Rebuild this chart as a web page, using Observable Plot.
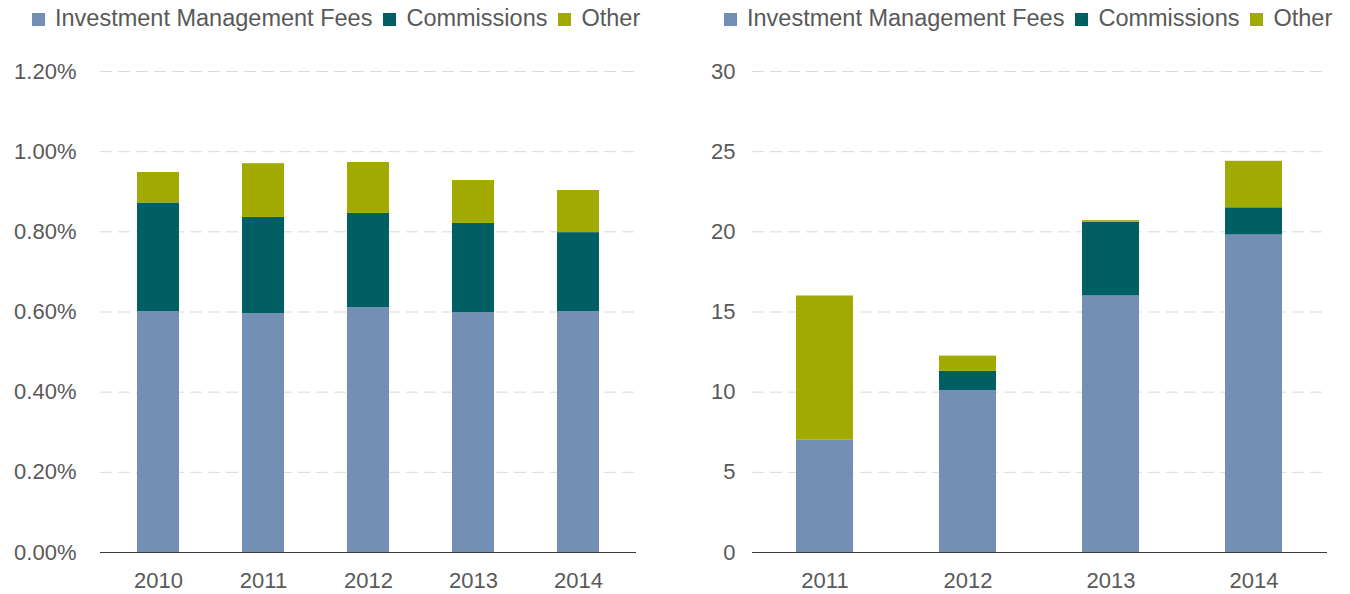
<!DOCTYPE html>
<html>
<head>
<meta charset="utf-8">
<script src="https://cdn.jsdelivr.net/npm/d3@7"></script>
<script src="https://cdn.jsdelivr.net/npm/@observablehq/plot@0.6"></script>
<style>
  html, body { margin: 0; padding: 0; background: #fff; }
  body { width: 1350px; height: 594px; position: relative; overflow: hidden; font-family: "Liberation Sans", Arial, sans-serif; }
  .panel { position: absolute; top: 0; width: 675px; height: 594px; }
  .legend { height: 36px; display: flex; align-items: center; font-size: 23.5px; color: #595959; white-space: nowrap; }
  .legend .item { display: flex; align-items: center; margin-right: 11px; }
  .legend .sw { width: 13px; height: 13px; margin-right: 10px; margin-top: 3px; }
  svg { display: block; }
</style>
</head>
<body>
<div class="panel" id="left"></div>
<div class="panel" id="right" style="left:675px"></div>
<script>
// ---- data ----
const seriesNames = ["Investment Management Fees", "Commissions", "Other"];
const seriesColors = ["#7390b4", "#005f63", "#a0aa00"];

// Left chart: share of assets (%)
const yearsA = ["2010", "2011", "2012", "2013", "2014"];
const feesA  = [0.601, 0.596, 0.611, 0.598, 0.601];
const commA  = [0.271, 0.240, 0.235, 0.223, 0.197];
const otherA = [0.076, 0.134, 0.127, 0.107, 0.105];
const ticksA = [0, 0.2, 0.4, 0.6, 0.8, 1.0, 1.2];

// Right chart: amounts
const yearsB = ["2011", "2012", "2013", "2014"];
const feesB  = [7.0, 10.1, 16.0, 19.8];
const commB  = [0.0, 1.2, 4.6, 1.7];
const otherB = [9.0, 0.95, 0.1, 2.9];
const ticksB = [0, 5, 10, 15, 20, 25, 30];

function longForm(years, cols) {
  const out = [];
  seriesNames.forEach((s, si) => {
    years.forEach((y, i) => out.push({year: y, series: s, value: cols[si][i]}));
  });
  return out;
}

function legend() {
  const d = document.createElement("div");
  d.className = "legend";
  seriesNames.forEach((s, i) => {
    const it = document.createElement("div");
    it.className = "item";
    const sw = document.createElement("div");
    sw.className = "sw";
    sw.style.background = seriesColors[i];
    const t = document.createElement("span");
    t.textContent = s;
    it.appendChild(sw); it.appendChild(t);
    d.appendChild(it);
  });
  return d;
}

function chart({years, data, ticks, domain, fmt, marginLeft, marginRight, paddingOuter, tickPadding}) {
  return Plot.plot({
    width: 675,
    height: 558,
    marginTop: 35,
    marginBottom: 42,
    marginLeft,
    marginRight,
    style: {fontFamily: "'Liberation Sans', Arial, sans-serif", fontSize: "22px", color: "#595959", background: "#fff"},
    x: {type: "band", domain: years, paddingInner: 0.6, paddingOuter, label: null},
    y: {domain, label: null},
    color: {domain: seriesNames, range: seriesColors},
    marks: [
      Plot.ruleY(ticks.filter(t => t > 0), {stroke: "#d9d9d9", strokeWidth: 1, strokeDasharray: "12,6"}),
      Plot.barY(data, {x: "year", y: "value", fill: "series", order: seriesNames}),
      Plot.ruleY([0], {stroke: "#3a3a3a", strokeWidth: 1.2}),
      Plot.axisY({ticks, tickSize: 0, tickPadding, tickFormat: fmt, label: null}),
      Plot.axisX({tickSize: 0, tickPadding: 20, label: null})
    ]
  });
}

const left = document.getElementById("left");
const lgA = legend(); lgA.style.paddingLeft = "32px";
left.appendChild(lgA);
left.appendChild(chart({
  years: yearsA,
  data: longForm(yearsA, [feesA, commA, otherA]),
  ticks: ticksA,
  domain: [0, 1.2],
  fmt: d => d.toFixed(2) + "%",
  marginLeft: 100, marginRight: 39, paddingOuter: 0.33, tickPadding: 24
}));

const right = document.getElementById("right");
const lgB = legend(); lgB.style.paddingLeft = "49px";
right.appendChild(lgB);
right.appendChild(chart({
  years: yearsB,
  data: longForm(yearsB, [feesB, commB, otherB]),
  ticks: ticksB,
  domain: [0, 30],
  fmt: d => String(d),
  marginLeft: 77, marginRight: 23, paddingOuter: 0.31, tickPadding: 17
}));
</script>
</body>
</html>
